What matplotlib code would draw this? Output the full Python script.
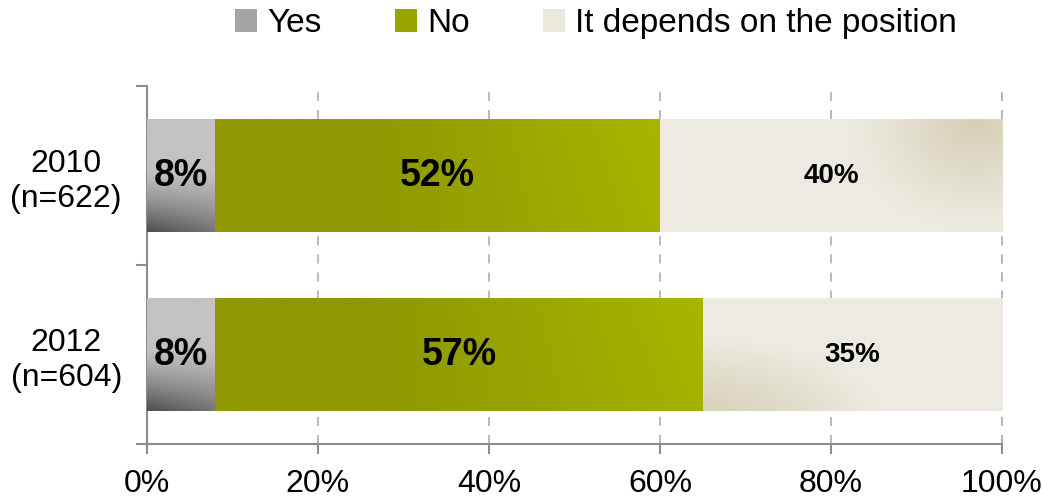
import numpy as np
import matplotlib
matplotlib.use("Agg")
import matplotlib.pyplot as plt
from matplotlib.patches import Patch
from matplotlib.colors import to_rgb

# Survey results (share of respondents, %)
groups = ["2010\n(n=622)", "2012\n(n=604)"]
series = ["Yes", "No", "It depends on the position"]
yes_vals = [8, 8]
no_vals = [52, 57]
depends_vals = [40, 35]
xticks = [0, 20, 40, 60, 80, 100]
xtick_labels = ["0%", "20%", "40%", "60%", "80%", "100%"]

plt.rcParams["font.family"] = ["Liberation Sans", "DejaVu Sans"]

fig = plt.figure(figsize=(10.42, 4.98), dpi=100)
ax = fig.add_axes([0.141, 0.1084, 0.8206, 0.7189])

BAR_H = 0.635
ypos = np.arange(len(groups))


def lerp(c1, c2, t):
    c1 = np.array(to_rgb(c1))
    c2 = np.array(to_rgb(c2))
    t = np.clip(t, 0, 1)[..., None]
    return c1 * (1 - t) + c2 * t


def yes_fill(xf, yf, idx):
    t = np.clip((yf - 0.45) / 0.55, 0, 1) ** 1.3 * (1 - 0.35 * xf)
    return lerp("#c2c2c2", "#4e4e4e", t)


def no_fill(xf, yf, idx):
    t = np.clip((xf - 0.35) / 0.65, 0, 1) * (0.85 + 0.15 * (1 - yf))
    return lerp("#8f9800", "#aab500", t)


def depends_fill(xf, yf, idx):
    if idx == 0:
        d = np.sqrt(((xf - 0.92) / 0.38) ** 2 + ((yf - 0.05) / 0.95) ** 2)
        t = np.clip(1 - d, 0, 1) ** 1.1
    else:
        d = np.sqrt(((xf - 0.0) / 0.6) ** 2 + ((yf - 1.1) / 0.75) ** 2)
        t = np.clip(1 - d, 0, 1) ** 0.9
    return lerp("#edebe1", "#d6cfb6", t)


fills = [yes_fill, no_fill, depends_fill]
values = [yes_vals, no_vals, depends_vals]
label_sizes = [27, 27, 20]

left = np.zeros(len(groups))
for s, (vals, fill) in enumerate(zip(values, fills)):
    vals = np.array(vals, dtype=float)
    bars = ax.barh(ypos, vals, left=left, height=BAR_H, color="none",
                   edgecolor="none", zorder=3)
    for i, bar in enumerate(bars):
        x0, y0 = bar.get_x(), bar.get_y()
        w, h = bar.get_width(), bar.get_height()
        xf, yf = np.meshgrid(np.linspace(0, 1, 240), np.linspace(0, 1, 80))
        img = fill(xf, yf, i)
        im = ax.imshow(img, extent=(x0, x0 + w, y0 + h, y0), aspect="auto",
                       interpolation="bilinear", zorder=3)
        im.set_clip_path(bar)
        ax.text(x0 + w / 2, ypos[i], f"{int(vals[i])}%", ha="center",
                va="center", fontsize=label_sizes[s], fontweight="bold",
                color="black", zorder=5)
    left = left + vals

ax.set_xlim(0, 100)
ax.set_ylim(1.5, -0.5)
ax.set_xticks(xticks)
ax.set_xticklabels(xtick_labels, fontsize=23)
ax.set_yticks(ypos)
ax.set_yticklabels(groups, fontsize=23, multialignment="center")
ax.set_yticks([-0.5, 0.5, 1.5], minor=True)
ax.tick_params(axis="y", which="major", length=0, pad=18)
ax.tick_params(axis="y", which="minor", length=8, width=1.5, color="#8c8c8c",
               direction="out")
ax.tick_params(axis="x", length=7, width=1.5, color="#8c8c8c", pad=11)

for sp in ["top", "right"]:
    ax.spines[sp].set_visible(False)
for sp in ["left", "bottom"]:
    ax.spines[sp].set_color("#8c8c8c")
    ax.spines[sp].set_linewidth(1.5)

ax.grid(axis="x", linestyle=(0, (5, 5)), color="#b4b4b4", linewidth=1.3,
        zorder=0)
ax.set_axisbelow(True)
# dashed line at 100% (the right edge)
ax.axvline(100, linestyle=(0, (5, 5)), color="#b4b4b4", linewidth=1.3,
           zorder=0, clip_on=False)

handles = [Patch(facecolor="#a4a4a4", edgecolor="none"),
           Patch(facecolor="#9aa500", edgecolor="none"),
           Patch(facecolor="#ebe8dc", edgecolor="none")]
fig.legend(handles, series, loc="center", bbox_to_anchor=(0.572, 0.952),
           ncol=3, frameon=False, handlelength=0.66, handleheight=0.66,
           handletextpad=0.3, columnspacing=2.2,
           prop={"family": ["Liberation Sans", "DejaVu Sans"], "size": 24})

fig.savefig("out.png", dpi=100)
